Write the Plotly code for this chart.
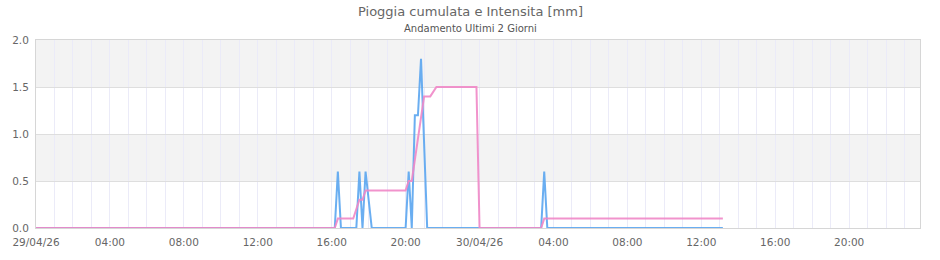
import plotly.graph_objects as go

# ---- data (vertices of the lines, 10-minute samples) ----
intensity_times = [
    "2026-04-29 00:00", "2026-04-29 16:10", "2026-04-29 16:20", "2026-04-29 16:30",
    "2026-04-29 17:20", "2026-04-29 17:30", "2026-04-29 17:40", "2026-04-29 17:50",
    "2026-04-29 18:00", "2026-04-29 18:10", "2026-04-29 20:00", "2026-04-29 20:10",
    "2026-04-29 20:20", "2026-04-29 20:30", "2026-04-29 20:40", "2026-04-29 20:50",
    "2026-04-29 21:00", "2026-04-29 21:10", "2026-04-30 03:20", "2026-04-30 03:30",
    "2026-04-30 03:40", "2026-04-30 13:10",
]
intensity_values = [
    0, 0, 0.6, 0,
    0, 0.6, 0, 0.6,
    0.3, 0, 0, 0.6,
    0, 1.2, 1.2, 1.8,
    0.9, 0, 0, 0.6,
    0, 0,
]

cumulated_times = [
    "2026-04-29 00:00", "2026-04-29 16:10", "2026-04-29 16:20", "2026-04-29 17:10",
    "2026-04-29 17:30", "2026-04-29 17:40", "2026-04-29 17:50", "2026-04-29 20:00",
    "2026-04-29 20:10", "2026-04-29 20:20", "2026-04-29 21:00", "2026-04-29 21:20",
    "2026-04-29 21:40", "2026-04-29 23:50", "2026-04-30 00:00", "2026-04-30 03:20",
    "2026-04-30 03:30", "2026-04-30 13:10",
]
cumulated_values = [
    0, 0, 0.1, 0.1,
    0.3, 0.3, 0.4, 0.4,
    0.5, 0.5, 1.4, 1.4,
    1.5, 1.5, 0, 0,
    0.1, 0.1,
]

x_tick_values = [
    "2026-04-29 00:00", "2026-04-29 04:00", "2026-04-29 08:00", "2026-04-29 12:00",
    "2026-04-29 16:00", "2026-04-29 20:00", "2026-04-30 00:00", "2026-04-30 04:00",
    "2026-04-30 08:00", "2026-04-30 12:00", "2026-04-30 16:00", "2026-04-30 20:00",
]
x_tick_labels = [
    "29/04/26", "04:00", "08:00", "12:00", "16:00", "20:00",
    "30/04/26", "04:00", "08:00", "12:00", "16:00", "20:00",
]
y_tick_values = [0, 0.5, 1.0, 1.5, 2.0]

title_text = "Pioggia cumulata e Intensita [mm]"
subtitle_text = "Andamento Ultimi 2 Giorni"

FONT = "DejaVu Sans"
TXT = "#666666"

fig = go.Figure()
fig.add_trace(go.Scatter(
    x=intensity_times, y=intensity_values, mode="lines",
    line=dict(color="rgba(90,165,240,0.9)", width=2), name="Intensita",
))
fig.add_trace(go.Scatter(
    x=cumulated_times, y=cumulated_values, mode="lines",
    line=dict(color="rgba(240,135,198,0.9)", width=2), name="Cumulata",
))

# alternating bands
for y0, y1 in [(0.5, 1.0), (1.5, 2.0)]:
    fig.add_shape(type="rect", xref="paper", yref="y", x0=0, x1=1, y0=y0, y1=y1,
                  fillcolor="#f3f3f3", line_width=0, layer="below")

plot_h = 260 - 40 - 30
plot_w = 940 - 35 - 20
cx = (470 - 35) / plot_w

fig.update_layout(
    width=940, height=260,
    margin=dict(l=35, r=20, t=40, b=30),
    paper_bgcolor="white", plot_bgcolor="white",
    showlegend=False,
    font=dict(family=FONT, size=10, color=TXT),
    annotations=[
        dict(text=title_text, x=cx, xref="paper", y=1 + (40 - 11) / plot_h, yref="paper",
             yanchor="middle", showarrow=False,
             font=dict(size=13, color=TXT, family=FONT)),
        dict(text=subtitle_text, x=cx, xref="paper", y=1 + (40 - 28) / plot_h, yref="paper",
             yanchor="middle", showarrow=False,
             font=dict(size=10, color="#555555", family=FONT)),
    ],
)

fig.update_xaxes(
    type="date",
    range=["2026-04-29 00:00", "2026-04-30 23:50"],
    tickmode="array", tickvals=x_tick_values, ticktext=x_tick_labels,
    showgrid=True, gridcolor="#ebebf8", gridwidth=1,
    minor=dict(dtick=3600000, tick0="2026-04-29 00:00", showgrid=True,
               gridcolor="#ebebf8", gridwidth=1),
    showline=True, linecolor="#d6d6d6", linewidth=1, mirror=True,
    ticks="", ticklabelstandoff=4, tickfont=dict(size=10.5, color=TXT), zeroline=False,
)
fig.update_yaxes(
    range=[0, 2.0], tickmode="array", tickvals=y_tick_values, tickformat=".1f",
    showgrid=True, gridcolor="#dedede", gridwidth=1,
    showline=True, linecolor="#d6d6d6", linewidth=1, mirror=True,
    ticks="", ticklabelstandoff=4, tickfont=dict(size=10.5, color=TXT), zeroline=False,
)

fig.write_html("out.html")
